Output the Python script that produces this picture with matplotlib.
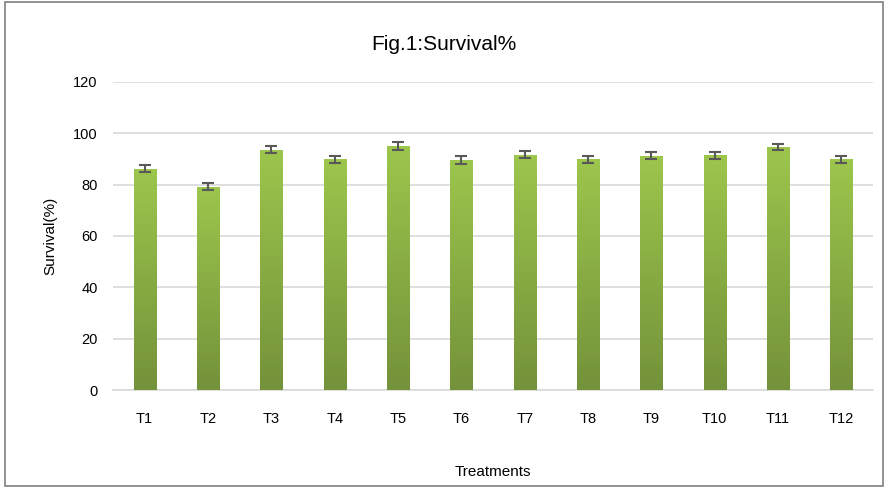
import matplotlib
matplotlib.use('Agg')
import matplotlib.pyplot as plt
import numpy as np
from matplotlib.patches import Rectangle
from matplotlib.colors import LinearSegmentedColormap

# Data
treatments = ['T1', 'T2', 'T3', 'T4', 'T5', 'T6', 'T7', 'T8', 'T9', 'T10', 'T11', 'T12']
survival = [86.2, 79.2, 93.6, 89.8, 95.0, 89.6, 91.7, 89.8, 91.2, 91.4, 94.6, 89.8]
errors = [1.4, 1.3, 1.3, 1.3, 1.5, 1.4, 1.3, 1.3, 1.3, 1.3, 1.3, 1.4]

plt.rcParams['font.family'] = ['Liberation Sans', 'DejaVu Sans']

fig = plt.figure(figsize=(8.87, 4.87), dpi=100)
ax = fig.add_axes([0.1274, 0.199, 0.857, 0.633])

x = np.arange(len(treatments))
bars = ax.bar(x, survival, width=0.35, color='none', edgecolor='none', zorder=3)

# gradient fill for each bar (light at top, darker at bottom)
cmap = LinearSegmentedColormap.from_list('grn', ['#74923a', '#9cc64c'])
grad = np.linspace(0, 1, 256).reshape(-1, 1)
for b in bars:
    bx, by = b.get_x(), b.get_y()
    w, h = b.get_width(), b.get_height()
    im = ax.imshow(grad, cmap=cmap, origin='lower', aspect='auto',
                   extent=[bx, bx + w, by, by + h], zorder=3)
    im.set_clip_path(b)

ax.errorbar(x, survival, yerr=errors, fmt='none', ecolor='#595959',
            elinewidth=1.5, capsize=4, capthick=1.5, zorder=4)

ax.set_xlim(-0.5, len(treatments) - 0.5)
ax.set_ylim(0, 120)
ax.set_yticks(range(0, 121, 20))
ax.set_xticks(x)
ax.set_xticklabels(treatments)
ax.yaxis.grid(True, color='#d9d9d9', linewidth=1.2, zorder=0)
ax.set_axisbelow(True)
for s in ['top', 'right', 'left']:
    ax.spines[s].set_visible(False)
ax.spines['bottom'].set_color('#d9d9d9')
ax.spines['bottom'].set_linewidth(1.2)
ax.tick_params(axis='both', length=0, labelsize=10.5, colors='black')
ax.tick_params(axis='y', pad=11)
ax.tick_params(axis='x', pad=16)

fig.text(0.5, 1 - 45 / 487, 'Fig.1:Survival%', fontsize=15, ha='center', va='center')
ax.set_ylabel('Survival(%)', fontsize=11, labelpad=11)
ax.set_xlabel('Treatments', fontsize=11, labelpad=28)

fig.patches.append(Rectangle((0.006, 0.003), 0.99, 0.993, transform=fig.transFigure,
                             fill=False, edgecolor='#7f7f7f', linewidth=1.2))

fig.savefig('out.png', dpi=100)
